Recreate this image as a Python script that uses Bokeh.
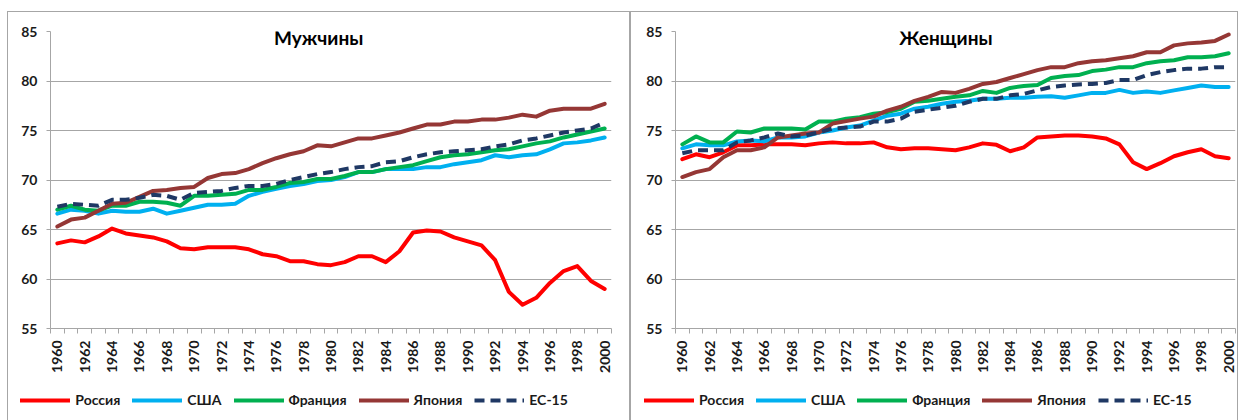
import math
from bokeh.plotting import figure
from bokeh.models import (Range1d, FixedTicker, Legend, LegendItem, Label,
                          ColumnDataSource, Spacer)
from bokeh.layouts import row, column
from bokeh.embed import file_html
from bokeh.resources import INLINE

years = list(range(1960, 2001))
year_labels = [str(y) for y in range(1960, 2001, 2)]
series_names = ["Россия", "США", "Франция", "Япония", "ЕС-15"]

men_russia = [63.6, 63.9, 63.7, 64.3, 65.1, 64.6, 64.4, 64.2, 63.8, 63.1, 63.0, 63.2, 63.2, 63.2, 63.0,
              62.5, 62.3, 61.8, 61.8, 61.5, 61.4, 61.7, 62.3, 62.3, 61.7, 62.8, 64.7, 64.9, 64.8, 64.2,
              63.8, 63.4, 61.9, 58.7, 57.4, 58.1, 59.6, 60.8, 61.3, 59.8, 59.0]
men_usa = [66.6, 67.0, 66.9, 66.6, 66.9, 66.8, 66.8, 67.1, 66.6, 66.9, 67.2, 67.5, 67.5, 67.6, 68.4,
           68.8, 69.1, 69.4, 69.6, 69.9, 70.0, 70.3, 70.8, 70.8, 71.1, 71.1, 71.1, 71.3, 71.3, 71.6,
           71.8, 72.0, 72.5, 72.3, 72.5, 72.6, 73.1, 73.7, 73.8, 74.0, 74.3]
men_france = [67.0, 67.4, 67.0, 66.9, 67.4, 67.4, 67.8, 67.8, 67.7, 67.4, 68.4, 68.4, 68.5, 68.6, 69.0,
              69.0, 69.3, 69.7, 69.8, 70.1, 70.1, 70.4, 70.8, 70.8, 71.1, 71.3, 71.5, 71.9, 72.3, 72.5,
              72.6, 72.8, 73.0, 73.1, 73.4, 73.7, 73.9, 74.3, 74.6, 74.9, 75.2]
men_japan = [65.3, 66.0, 66.2, 66.9, 67.6, 67.7, 68.3, 68.9, 69.0, 69.2, 69.3, 70.2, 70.6, 70.7, 71.1,
             71.7, 72.2, 72.6, 72.9, 73.5, 73.4, 73.8, 74.2, 74.2, 74.5, 74.8, 75.2, 75.6, 75.6, 75.9,
             75.9, 76.1, 76.1, 76.3, 76.6, 76.4, 77.0, 77.2, 77.2, 77.2, 77.7]
men_eu15 = [67.3, 67.6, 67.5, 67.4, 68.0, 68.0, 68.2, 68.5, 68.4, 68.0, 68.7, 68.8, 68.9, 69.2, 69.4,
            69.4, 69.6, 70.0, 70.3, 70.6, 70.8, 71.1, 71.3, 71.4, 71.8, 71.9, 72.3, 72.6, 72.8, 72.9,
            73.0, 73.1, 73.4, 73.6, 74.0, 74.2, 74.5, 74.8, 75.0, 75.2, 75.8]

women_russia = [72.1, 72.6, 72.3, 72.8, 73.5, 73.5, 73.6, 73.6, 73.6, 73.5, 73.7, 73.8, 73.7, 73.7, 73.8,
                73.3, 73.1, 73.2, 73.2, 73.1, 73.0, 73.3, 73.7, 73.55, 72.9, 73.3, 74.3, 74.4, 74.5, 74.5,
                74.4, 74.2, 73.6, 71.8, 71.1, 71.7, 72.4, 72.8, 73.1, 72.4, 72.2]
women_usa = [73.2, 73.6, 73.5, 73.5, 73.9, 74.0, 73.9, 74.3, 74.3, 74.4, 74.8, 75.0, 75.3, 75.5, 76.0,
             76.5, 76.7, 77.2, 77.4, 77.7, 77.9, 78.0, 78.2, 78.2, 78.3, 78.3, 78.4, 78.45, 78.3, 78.55,
             78.8, 78.8, 79.1, 78.8, 78.95, 78.8, 79.05, 79.3, 79.55, 79.4, 79.4]
women_france = [73.6, 74.4, 73.8, 73.8, 74.9, 74.8, 75.2, 75.2, 75.2, 75.1, 75.9, 75.9, 76.2, 76.35, 76.7,
                76.85, 77.2, 77.9, 78.0, 78.2, 78.4, 78.55, 79.0, 78.8, 79.3, 79.5, 79.6, 80.3, 80.5, 80.6,
                81.0, 81.15, 81.4, 81.4, 81.8, 82.0, 82.1, 82.4, 82.4, 82.5, 82.8]
women_japan = [70.3, 70.8, 71.1, 72.3, 73.0, 73.0, 73.3, 74.3, 74.5, 74.7, 74.8, 75.7, 75.95, 76.2, 76.4,
               77.0, 77.4, 78.0, 78.4, 78.9, 78.8, 79.2, 79.7, 79.9, 80.3, 80.7, 81.1, 81.4, 81.4, 81.8,
               82.0, 82.1, 82.3, 82.5, 82.9, 82.9, 83.6, 83.8, 83.9, 84.05, 84.7]
women_eu15 = [72.7, 73.0, 73.0, 73.0, 73.8, 74.0, 74.3, 74.7, 74.4, 74.5, 74.8, 75.2, 75.3, 75.4, 75.9,
              75.9, 76.2, 76.9, 77.1, 77.3, 77.5, 77.9, 78.2, 78.2, 78.55, 78.7, 79.05, 79.4, 79.55, 79.65,
              79.7, 79.8, 80.1, 80.1, 80.6, 80.9, 81.1, 81.25, 81.25, 81.4, 81.4]

COLORS = ["#ff0000", "#00b0f0", "#00b050", "#953735", "#1f3864"]
DASHES = ["solid", "solid", "solid", "solid", "10 6"]
FONT = "Lato"
TEXT = "#1a1a1a"
GRID = "#a6a6a6"
BORDER = "1px solid #a6a6a6"


def build(title, series, frame_w, b_left, b_right, title_x):
    total_w = b_left + frame_w + b_right
    p = figure(frame_width=frame_w, frame_height=296,
               min_border_left=b_left, min_border_right=b_right,
               min_border_top=19, min_border_bottom=50,
               x_range=Range1d(1959.5, 2000.5), y_range=Range1d(55, 85),
               output_backend="svg", toolbar_location=None,
               background_fill_color="white", border_fill_color="white",
               styles={"border-top": BORDER, "border-left": BORDER,
                       "border-right": BORDER})
    p.outline_line_color = None

    p.xaxis.ticker = FixedTicker(ticks=[int(t) for t in year_labels],
                                 minor_ticks=[y - 0.5 for y in years] + [2000.5])
    p.xaxis.major_label_orientation = math.pi / 2
    p.xaxis.major_tick_line_color = None
    p.xaxis.major_tick_out = 5
    p.xaxis.major_tick_in = 0
    p.xaxis.minor_tick_out = 5
    p.xaxis.minor_tick_in = 0
    p.xaxis.minor_tick_line_color = GRID
    p.xaxis.axis_line_color = GRID
    p.xaxis.major_label_standoff = 7

    p.yaxis.ticker = FixedTicker(ticks=[55, 60, 65, 70, 75, 80, 85])
    p.yaxis.minor_tick_line_color = None
    p.yaxis.major_tick_out = 4
    p.yaxis.major_tick_in = 0
    p.yaxis.major_tick_line_color = GRID
    p.yaxis.axis_line_color = GRID
    p.yaxis.major_label_standoff = 9

    for ax in (p.xaxis, p.yaxis):
        ax.major_label_text_font = FONT
        ax.major_label_text_font_style = "bold"
        ax.major_label_text_font_size = "14px"
        ax.major_label_text_color = TEXT

    p.xgrid.grid_line_color = None
    p.ygrid.grid_line_color = GRID
    p.ygrid.grid_line_width = 1

    for name, vals, col, dash in zip(series_names, series, COLORS, DASHES):
        src = ColumnDataSource(dict(x=years, y=vals))
        p.line("x", "y", source=src, line_color=col, line_width=4,
               line_dash=dash, line_join="round",
               line_cap="butt" if dash != "solid" else "round")

    p.add_layout(Label(x=title_x, y=84.4, text=title, text_align="center",
                       text_baseline="middle", text_font=FONT,
                       text_font_style="bold", text_font_size="19px",
                       text_color="#000000"))

    # legend strip beneath the chart (series drawn off-range, only the key shows)
    lf_left = b_left - 3
    q = figure(frame_width=total_w - lf_left, frame_height=44,
               min_border_left=lf_left, min_border_right=0,
               min_border_top=0, min_border_bottom=0,
               x_range=Range1d(0, 1), y_range=Range1d(0, 1),
               x_axis_type=None, y_axis_type=None,
               output_backend="svg", toolbar_location=None,
               background_fill_color="white", border_fill_color="white",
               styles={"border-bottom": BORDER, "border-left": BORDER,
                       "border-right": BORDER})
    q.outline_line_color = None
    q.xgrid.grid_line_color = None
    q.ygrid.grid_line_color = None
    items = []
    for name, vals, col, dash in zip(series_names, series, COLORS, DASHES):
        src = ColumnDataSource(dict(x=years, y=vals))
        r = q.line("x", "y", source=src, line_color=col, line_width=4, line_dash=dash,
                   line_cap="butt" if dash != "solid" else "round")
        items.append(LegendItem(label=name, renderers=[r]))
    legend = Legend(items=items, orientation="horizontal", location="center_left",
                    glyph_width=50, glyph_height=18, label_standoff=5, spacing=12,
                    padding=0, margin=0, border_line_color=None,
                    background_fill_alpha=0,
                    label_text_font=FONT, label_text_font_style="bold",
                    label_text_font_size="14px", label_text_color=TEXT)
    q.add_layout(legend, "center")
    return column(p, q)


c1 = build("Мужчины", [men_russia, men_usa, men_france, men_japan, men_eu15],
           559, 42, 20, 1979.1)
c2 = build("Женщины", [women_russia, women_usa, women_france, women_japan, women_eu15],
           558, 44, 4, 1979.3)

layout = column(Spacer(height=11), row(Spacer(width=7), c1, c2))
open("out.html", "w").write(file_html(layout, INLINE))
